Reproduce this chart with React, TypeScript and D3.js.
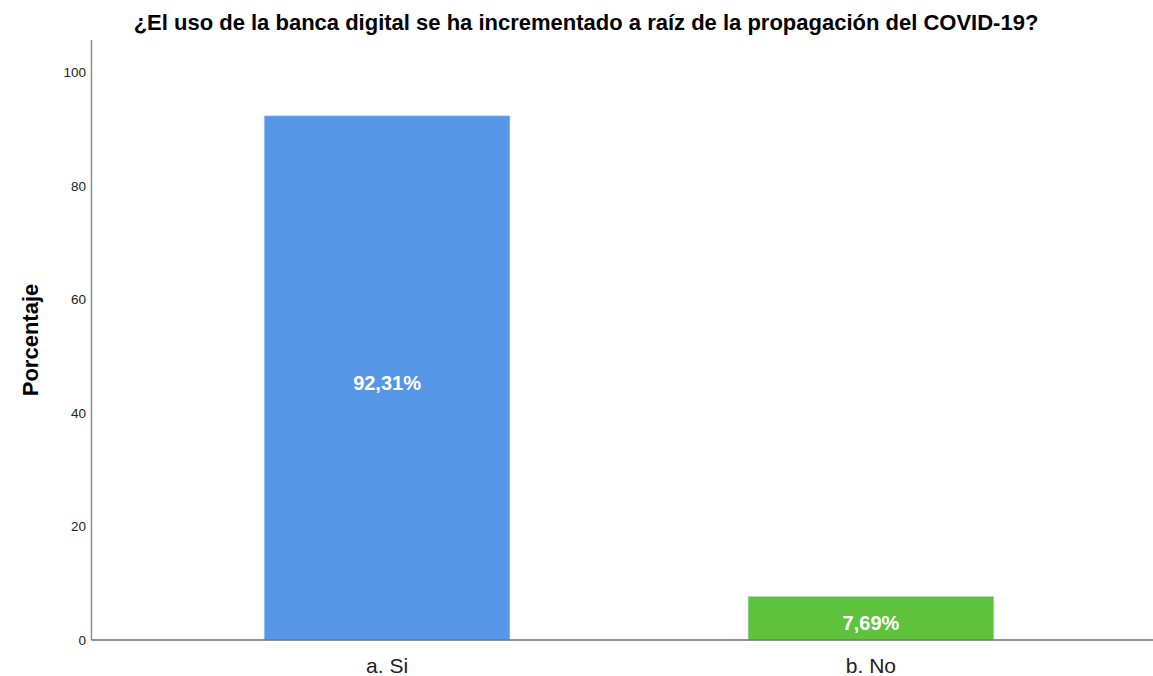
import React from 'react'
import * as d3 from 'd3'

const categories = ['a. Si', 'b. No']
const percentages = [92.31, 7.69]
const valueLabels = ['92,31%', '7,69%']
const barColors = ['#5596e6', '#5fc23c']
const yTicks = [0, 20, 40, 60, 80, 100]

const title = '¿El uso de la banca digital se ha incrementado a raíz de la propagación del COVID-19?'
const yTitle = 'Porcentaje'

const W = 1153
const H = 676
const font = '"Liberation Sans", Arial, sans-serif'

export default function App() {
  const y = d3.scaleLinear().domain([0, 100]).range([640, 72])
  const x = d3.scaleBand().domain(categories).range([118, 1140]).paddingInner(0.492).paddingOuter(0.302)
  const axisX = 91.5

  return (
    <svg width={W} height={H} style={{ position: 'absolute', left: 0, top: 0, background: '#fff' }}>
      <text x={586} y={30} textAnchor="middle" fontFamily={font} fontWeight="bold" fontSize={22} fill="#000">
        {title}
      </text>

      {/* bars */}
      {categories.map((c, i) => (
        <g key={c}>
          <rect
            x={x(c)}
            y={y(percentages[i])}
            width={x.bandwidth()}
            height={y(0) - y(percentages[i])}
            fill={barColors[i]}
            stroke="#d6e6f8"
            strokeOpacity={0.6}
            strokeWidth={1}
          />
          <text
            x={(x(c) as number) + x.bandwidth() / 2}
            y={(y(percentages[i]) + y(0)) / 2 + 12}
            textAnchor="middle"
            fontFamily={font}
            fontWeight="bold"
            fontSize={20}
            fill="#fff"
          >
            {valueLabels[i]}
          </text>
          <text
            x={(x(c) as number) + x.bandwidth() / 2}
            y={673}
            textAnchor="middle"
            fontFamily={font}
            fontSize={21}
            fill="#222"
          >
            {c}
          </text>
        </g>
      ))}

      {/* y axis */}
      <line x1={axisX} x2={axisX} y1={40} y2={640} stroke="#8c8c8c" strokeWidth={1.5} />
      {yTicks.map(t => (
        <text key={t} x={86} y={y(t) + 5} textAnchor="end" fontFamily={font} fontSize={13.5} fill="#222">
          {t}
        </text>
      ))}
      {/* x axis */}
      <line x1={axisX} x2={W} y1={640} y2={640} stroke="#6e6e6e" strokeWidth={1.5} />

      <text
        transform={`translate(38,340) rotate(-90)`}
        textAnchor="middle"
        fontFamily={font}
        fontWeight="bold"
        fontSize={22}
        fill="#000"
      >
        {yTitle}
      </text>
    </svg>
  )
}
